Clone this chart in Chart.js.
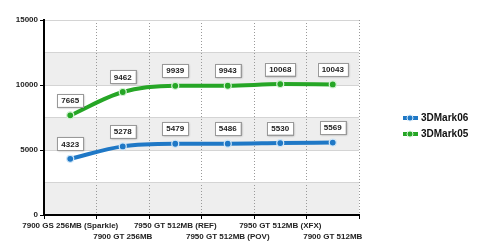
<!DOCTYPE html>
<html>
<head>
<meta charset="utf-8">
<script src="https://cdn.jsdelivr.net/npm/chart.js@4"></script>
<style>
  html, body { margin: 0; padding: 0; background: #fff; }
  #wrap { width: 500px; height: 252px; }
</style>
</head>
<body>
<div id="wrap"><canvas id="chart" width="500" height="252"></canvas></div>
<script>
// cards on the x axis, labels alternate between two rows
const cards = [
    '7900 GS 256MB (Sparkle)',
    '7900 GT 256MB',
    '7950 GT 512MB (REF)',
    '7950 GT 512MB (POV)',
    '7950 GT 512MB (XFX)',
    '7900 GT 512MB'
];
const mark06 = [4323, 5278, 5479, 5486, 5530, 5569];
const mark05 = [7665, 9462, 9939, 9943, 10068, 10043];
const yTicks = [0, 5000, 10000, 15000];

const FONT = 'bold 8px Arial, "Liberation Sans", sans-serif';

// grey bands every 2500 behind the plot
const bandsPlugin = {
    id: 'bands',
    beforeDraw(chart) {
        const { ctx, chartArea: a, scales: { y } } = chart;
        ctx.save();
        for (let v = 0; v < 15000; v += 5000) {
            const top = y.getPixelForValue(v + 2500);
            const bot = y.getPixelForValue(v);
            ctx.fillStyle = '#eeeeee';
            ctx.fillRect(a.left, top, a.right - a.left, bot - top);
        }
        ctx.restore();
    }
};

// value boxes above each point
const boxPlugin = {
    id: 'valueBoxes',
    afterDatasetsDraw(chart) {
        const ctx = chart.ctx;
        ctx.save();
        ctx.font = FONT;
        ctx.textAlign = 'center';
        ctx.textBaseline = 'middle';
        chart.data.datasets.forEach((ds, i) => {
            chart.getDatasetMeta(i).data.forEach((pt, j) => {
                const txt = String(ds.data[j]);
                const w = ctx.measureText(txt).width + 8;
                const h = 13;
                const cx = pt.x, cy = pt.y - 15;
                ctx.shadowColor = 'rgba(0,0,0,0.35)';
                ctx.shadowBlur = 2;
                ctx.shadowOffsetX = 1;
                ctx.shadowOffsetY = 1;
                ctx.fillStyle = '#fff';
                ctx.fillRect(cx - w / 2, cy - h / 2, w, h);
                ctx.shadowColor = 'transparent';
                ctx.strokeStyle = '#999';
                ctx.lineWidth = 1;
                ctx.strokeRect(Math.round(cx - w / 2) + 0.5, Math.round(cy - h / 2) + 0.5, Math.round(w), h);
                ctx.fillStyle = '#222';
                ctx.fillText(txt, cx, cy + 0.5);
            });
        });
        ctx.restore();
    }
};

// legend on the right: thick line with a dot
const legendPlugin = {
    id: 'sideLegend',
    afterDraw(chart) {
        const ctx = chart.ctx;
        ctx.save();
        ctx.font = 'bold 10px Arial, "Liberation Sans", sans-serif';
        ctx.textBaseline = 'middle';
        chart.data.datasets.forEach((ds, k) => {
            const y = 118 + k * 16;
            ctx.strokeStyle = ds.borderColor;
            ctx.lineWidth = 4;
            ctx.beginPath();
            ctx.moveTo(403, y);
            ctx.lineTo(418, y);
            ctx.stroke();
            ctx.beginPath();
            ctx.arc(410, y, 3, 0, Math.PI * 2);
            ctx.fillStyle = ds.borderColor;
            ctx.fill();
            ctx.strokeStyle = ds.pointBorderColor;
            ctx.lineWidth = 1;
            ctx.stroke();
            ctx.fillStyle = '#111';
            ctx.fillText(ds.label, 421, y + 0.5);
        });
        ctx.restore();
    }
};

const labels = cards.map((c, i) => i % 2 === 0 ? [c, ''] : ['', c]);

new Chart(document.getElementById('chart').getContext('2d'), {
    type: 'line',
    data: {
        labels: labels,
        datasets: [{
            label: '3DMark06',
            data: mark06,
            borderColor: '#1f78c6',
            backgroundColor: '#1f78c6',
            pointBorderColor: '#cfe6f8',
            borderWidth: 4,
            pointRadius: 3.5,
            pointBorderWidth: 1.2,
            tension: 0.35,
            cubicInterpolationMode: 'monotone'
        }, {
            label: '3DMark05',
            data: mark05,
            borderColor: '#26a626',
            backgroundColor: '#26a626',
            pointBorderColor: '#d3f2d3',
            borderWidth: 4,
            pointRadius: 3.5,
            pointBorderWidth: 1.2,
            tension: 0.35,
            cubicInterpolationMode: 'monotone'
        }]
    },
    options: {
        responsive: false,
        animation: false,
        layout: { padding: { top: 20, right: 141, left: 0, bottom: 0 } },
        plugins: {
            legend: { display: false },
            tooltip: { enabled: false }
        },
        scales: {
            x: {
                offset: true,
                afterFit(s) { s.height = 37; },
                grid: {
                    offset: true,
                    color: '#999999',
                    lineWidth: 1,
                    tickColor: '#000',
                    tickLength: 4,
                    tickBorderDash: []
                },
                border: { color: '#000', width: 2, dash: [1, 2] },
                ticks: {
                    autoSkip: false,
                    maxRotation: 0,
                    minRotation: 0,
                    padding: 1,
                    color: '#222',
                    font: { family: 'Arial, "Liberation Sans", sans-serif', size: 8, weight: 'bold', lineHeight: 1.4 }
                }
            },
            y: {
                min: 0,
                max: 15000,
                afterFit(s) { s.width = 44; },
                afterBuildTicks(s) {
                    s.ticks = [];
                    for (let v = 0; v <= 15000; v += 2500) s.ticks.push({ value: v });
                },
                grid: {
                    color: '#d4d4d4',
                    lineWidth: 1,
                    tickLength: 4,
                    tickColor: ctx => yTicks.includes(ctx.tick.value) ? '#000' : 'rgba(0,0,0,0)'
                },
                border: { color: '#000', width: 2 },
                ticks: {
                    padding: 2,
                    color: '#222',
                    font: { family: 'Arial, "Liberation Sans", sans-serif', size: 8, weight: 'bold' },
                    callback: v => yTicks.includes(v) ? String(v) : ''
                }
            }
        }
    },
    plugins: [bandsPlugin, boxPlugin, legendPlugin]
});
</script>
</body>
</html>
